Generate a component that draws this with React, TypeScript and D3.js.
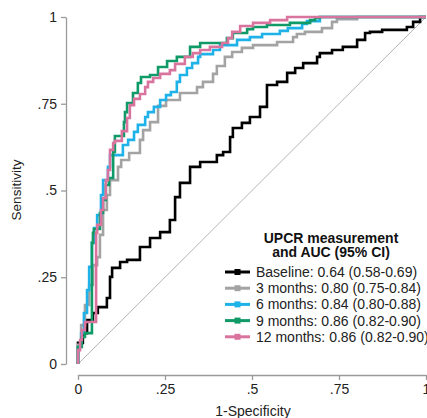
import * as d3 from 'd3';
import React, { useEffect, useRef } from 'react';

// ROC points: [1-specificity, sensitivity]
const baseline: [number, number][] = [
    [0, 0], [0.014, 0.061], [0.026, 0.089], [0.043, 0.127], [0.057, 0.147], [0.083, 0.164],
    [0.092, 0.19], [0.098, 0.251], [0.121, 0.277], [0.141, 0.294], [0.178, 0.3], [0.207, 0.337],
    [0.236, 0.363], [0.264, 0.38], [0.279, 0.415], [0.293, 0.481], [0.322, 0.522], [0.351, 0.568],
    [0.371, 0.582], [0.399, 0.582], [0.417, 0.602], [0.437, 0.611], [0.445, 0.654], [0.471, 0.68],
    [0.494, 0.695], [0.523, 0.712], [0.543, 0.741], [0.572, 0.804], [0.601, 0.813], [0.624, 0.839],
    [0.647, 0.853], [0.687, 0.867], [0.695, 0.885], [0.73, 0.896], [0.761, 0.905], [0.802, 0.914],
    [0.825, 0.934], [0.839, 0.954], [0.874, 0.957], [0.945, 0.963], [0.963, 0.971], [0.983, 0.986],
    [1, 1],
];

const months3: [number, number][] = [
    [0, 0], [0.009, 0.055], [0.02, 0.112], [0.032, 0.17], [0.043, 0.228], [0.055, 0.285],
    [0.063, 0.308], [0.072, 0.372], [0.083, 0.444], [0.092, 0.487], [0.115, 0.53], [0.124, 0.568],
    [0.147, 0.588], [0.178, 0.608], [0.187, 0.646], [0.207, 0.674], [0.23, 0.697], [0.253, 0.744],
    [0.293, 0.761], [0.342, 0.781], [0.359, 0.798], [0.388, 0.813], [0.399, 0.836], [0.422, 0.859],
    [0.443, 0.885], [0.471, 0.899], [0.503, 0.911], [0.572, 0.919], [0.618, 0.928], [0.629, 0.942],
    [0.652, 0.951], [0.701, 0.957], [0.73, 0.968], [0.744, 0.986], [0.802, 0.994], [0.917, 1], [1, 1],
];

const months6: [number, number][] = [
    [0, 0], [0, 0.012], [0.009, 0.049], [0.017, 0.089], [0.026, 0.147], [0.032, 0.213],
    [0.04, 0.28], [0.046, 0.349], [0.055, 0.392], [0.066, 0.429], [0.072, 0.487], [0.086, 0.53],
    [0.092, 0.568], [0.112, 0.602], [0.129, 0.602], [0.144, 0.631], [0.161, 0.646], [0.172, 0.669],
    [0.193, 0.689], [0.201, 0.712], [0.218, 0.726], [0.236, 0.741], [0.253, 0.761], [0.267, 0.775],
    [0.284, 0.784], [0.293, 0.813], [0.313, 0.833], [0.328, 0.853], [0.345, 0.867], [0.351, 0.885],
    [0.388, 0.893], [0.408, 0.905], [0.457, 0.919], [0.494, 0.934], [0.529, 0.942], [0.58, 0.951],
    [0.603, 0.96], [0.644, 0.968], [0.658, 0.98], [0.695, 0.988], [0.761, 1], [1, 1],
];

const months9: [number, number][] = [
    [0, 0], [0, 0.02], [0.011, 0.049], [0.02, 0.078], [0.04, 0.089], [0.04, 0.291],
    [0.043, 0.349], [0.046, 0.378], [0.063, 0.389], [0.072, 0.435], [0.08, 0.473], [0.089, 0.516],
    [0.101, 0.536], [0.106, 0.611], [0.106, 0.654], [0.132, 0.657], [0.135, 0.697], [0.141, 0.726],
    [0.158, 0.752], [0.172, 0.781], [0.181, 0.81], [0.207, 0.827], [0.23, 0.833], [0.256, 0.856],
    [0.284, 0.873], [0.322, 0.885], [0.351, 0.914], [0.388, 0.925], [0.428, 0.925], [0.445, 0.939],
    [0.486, 0.954], [0.503, 0.965], [0.543, 0.971], [0.609, 0.977], [0.667, 0.983], [0.681, 0.991],
    [0.695, 0.997], [0.733, 1], [1, 1],
];

const months12: [number, number][] = [
    [0, 0], [0, 0.012], [0.006, 0.04], [0.011, 0.069], [0.02, 0.098], [0.026, 0.121],
    [0.052, 0.121], [0.052, 0.349], [0.055, 0.378], [0.066, 0.401], [0.072, 0.444], [0.08, 0.478],
    [0.086, 0.53], [0.092, 0.559], [0.101, 0.617], [0.106, 0.637], [0.126, 0.643], [0.141, 0.671],
    [0.149, 0.709], [0.161, 0.746], [0.178, 0.764], [0.193, 0.778], [0.201, 0.798], [0.216, 0.813],
    [0.236, 0.824], [0.264, 0.836], [0.279, 0.847], [0.307, 0.865], [0.33, 0.885], [0.351, 0.896],
    [0.379, 0.905], [0.414, 0.914], [0.431, 0.925], [0.443, 0.939], [0.466, 0.957], [0.503, 0.974],
    [0.552, 0.983], [0.601, 0.991], [0.667, 1], [1, 1],
];

const seriesLabels = [
    "Baseline: 0.64 (0.58-0.69)",
    "3 months: 0.80 (0.75-0.84)",
    "6 months: 0.84 (0.80-0.88)",
    "9 months: 0.86 (0.82-0.90)",
    "12 months: 0.86 (0.82-0.90)",
];
const seriesColors = ["#000000", "#a3a3a3", "#1eb2e8", "#0f9a68", "#d9749f"];
const tickValues = [0, 0.25, 0.5, 0.75, 1];
const tickLabels = ["0", ".25", ".5", ".75", "1"];

const App = () => {
    const ref = useRef<SVGSVGElement>(null);

    useEffect(() => {
        const svg = d3.select(ref.current);
        svg.selectAll("*").remove();
        const font = "'Liberation Sans', Arial, sans-serif";

        const x = d3.scaleLinear().domain([0, 1]).range([78, 426]);
        const y = d3.scaleLinear().domain([0, 1]).range([364, 17]);
        const fmt = (d: d3.NumberValue) => tickLabels[tickValues.indexOf(+d)];

        // y axis, offset left of the plot
        const yAxis = svg.append("g")
            .attr("transform", "translate(66,0)")
            .call(d3.axisLeft(y).tickValues(tickValues).tickFormat(fmt).tickSize(5).tickSizeOuter(0).tickPadding(4));
        // x axis, offset below
        const xAxis = svg.append("g")
            .attr("transform", "translate(0,375)")
            .call(d3.axisBottom(x).tickValues(tickValues).tickFormat(fmt).tickSize(5).tickSizeOuter(0).tickPadding(4));

        [yAxis, xAxis].forEach(ax => {
            ax.select(".domain").attr("stroke", "#9a9a9a").attr("stroke-width", 1.3);
            ax.selectAll(".tick line").attr("stroke", "#9a9a9a").attr("stroke-width", 1.3);
            ax.selectAll(".tick text")
                .attr("fill", "#222")
                .style("font-family", font)
                .style("font-size", "14px");
        });

        svg.append("text")
            .attr("x", 253).attr("y", 416)
            .attr("text-anchor", "middle")
            .style("font-family", font).style("font-size", "14px").attr("fill", "#222")
            .text("1-Specificity");

        svg.append("text")
            .attr("transform", "translate(21,190) rotate(-90)")
            .attr("text-anchor", "middle")
            .style("font-family", font).style("font-size", "13.5px").attr("fill", "#222")
            .text("Sensitivity");

        // reference diagonal
        svg.append("line")
            .attr("x1", x(0)).attr("y1", y(0))
            .attr("x2", x(1)).attr("y2", y(1))
            .attr("stroke", "#b5b5b5").attr("stroke-width", 1);

        const line = d3.line<[number, number]>()
            .x(d => x(d[0]))
            .y(d => y(d[1]))
            .curve(d3.curveStepBefore);

        const allSeries = [baseline, months3, months6, months9, months12];
        allSeries.forEach((data, i) => {
            svg.append("path")
                .datum(data)
                .attr("d", line)
                .attr("fill", "none")
                .attr("stroke", seriesColors[i])
                .attr("stroke-width", 2.6)
                .attr("stroke-linejoin", "miter");
        });

        // legend
        const legend = svg.append("g");
        ["UPCR measurement", "and AUC (95% CI)"].forEach((t, i) => {
            legend.append("text")
                .attr("x", 331).attr("y", 243 + i * 14)
                .attr("text-anchor", "middle")
                .style("font-family", font).style("font-size", "14px").style("font-weight", "bold")
                .attr("fill", "#111")
                .text(t);
        });

        seriesLabels.forEach((label, i) => {
            const yy = 272 + i * 16.2;
            legend.append("line")
                .attr("x1", 225).attr("x2", 250)
                .attr("y1", yy).attr("y2", yy)
                .attr("stroke", seriesColors[i]).attr("stroke-width", 3);
            legend.append("rect")
                .attr("x", 234.5).attr("y", yy - 3)
                .attr("width", 6).attr("height", 6)
                .attr("fill", seriesColors[i]);
            legend.append("text")
                .attr("x", 256).attr("y", yy + 5)
                .style("font-family", font).style("font-size", "14px")
                .attr("fill", "#222")
                .text(label);
        });
    }, []);

    return (
        <svg ref={ref} width={427} height={418}
            style={{ position: "absolute", left: 0, top: 0, background: "#fff" }} />
    );
};

export default App;
